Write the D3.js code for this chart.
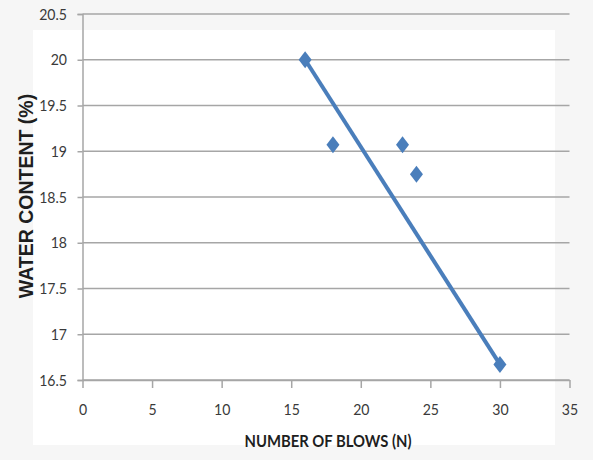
<!DOCTYPE html>
<html><head><meta charset="utf-8">
<script src="https://cdn.jsdelivr.net/npm/d3@7"></script>
<style>body{margin:0;background:#f6f6f6;} svg{display:block;}</style>
</head><body>
<svg id="c" width="593" height="460"></svg>
<script>
const blows = [16, 18, 23, 24, 30];
const waterContent = [20, 19.07, 19.07, 18.75, 16.67];
const lineX = [16, 30];
const lineY = [20, 16.67];
const xTicks = [0, 5, 10, 15, 20, 25, 30, 35];
const yTicks = [16.5, 17, 17.5, 18, 18.5, 19, 19.5, 20, 20.5];

const svg = d3.select("#c");
svg.append("rect").attr("x",0).attr("y",0).attr("width",593).attr("height",460).attr("fill","#f6f6f6");
svg.append("rect").attr("x",33).attr("y",30).attr("width",522).attr("height",415).attr("fill","#ffffff");

const x = d3.scaleLinear().domain([0,35]).range([82.5,569.5]);
const y = d3.scaleLinear().domain([16.5,20.5]).range([380,14]);

// gridlines
svg.append("g").selectAll("line").data(yTicks).join("line")
  .attr("x1", x(0)).attr("x2", x(35))
  .attr("y1", d=>y(d)).attr("y2", d=>y(d))
  .attr("stroke","#a6a6a6").attr("stroke-width",1.5);

// y axis
const yAxis = d3.axisLeft(y).tickValues(yTicks).tickSize(5).tickFormat(d3.format("~g"));
const gy = svg.append("g").attr("transform",`translate(${x(0)},0)`).call(yAxis);
gy.select(".domain").attr("stroke","#a6a6a6").attr("stroke-width",1.5);
gy.selectAll(".tick line").attr("stroke","#a6a6a6").attr("stroke-width",1.5);
gy.selectAll("text").attr("font-family","Lato, sans-serif").attr("font-size",16).attr("fill","#3a3a3a")
  .attr("x",0).attr("transform","translate(-15.5,0) scale(0.88,1)");

// x axis
const xAxis = d3.axisBottom(x).tickValues(xTicks).tickSize(8).tickSizeOuter(0);
const gx = svg.append("g").attr("transform",`translate(0,${y(16.5)})`).call(xAxis);
gx.select(".domain").attr("stroke","#a6a6a6").attr("stroke-width",1.5);
gx.selectAll(".tick line").attr("stroke","#a6a6a6").attr("stroke-width",1.5);
gx.selectAll("text").attr("font-family","Lato, sans-serif").attr("font-size",16).attr("fill","#3a3a3a")
  .attr("y",24).attr("transform","scale(0.88,1)");

// line
const lineData = lineX.map((d,i)=>[d,lineY[i]]);
svg.append("path").datum(lineData)
  .attr("d", d3.line().x(d=>x(d[0])).y(d=>y(d[1])))
  .attr("stroke","#4a7ebb").attr("stroke-width",4).attr("fill","none");

// markers
const pts = blows.map((d,i)=>[d, waterContent[i]]);
svg.append("g").selectAll("path").data(pts).join("path")
  .attr("transform", d=>`translate(${x(d[0])},${y(d[1])})`)
  .attr("d","M0,-8.5L6.5,0L0,8.5L-6.5,0Z")
  .attr("fill","#4a7ebb");

// titles
svg.append("text").attr("x",328).attr("y",447).attr("text-anchor","middle")
  .attr("font-family","Lato, sans-serif").attr("font-weight","bold").attr("font-size",17)
  .attr("textLength",167).attr("lengthAdjust","spacingAndGlyphs")
  .attr("fill","#1e1e1e").text("NUMBER OF BLOWS (N)");
svg.append("text").attr("transform","translate(33,196) rotate(-90)").attr("text-anchor","middle")
  .attr("font-family","Liberation Sans, Arial, sans-serif").attr("font-weight","bold").attr("font-size",19.5)
  .attr("fill","#1e1e1e").text("WATER CONTENT (%)");
</script>
</body></html>
